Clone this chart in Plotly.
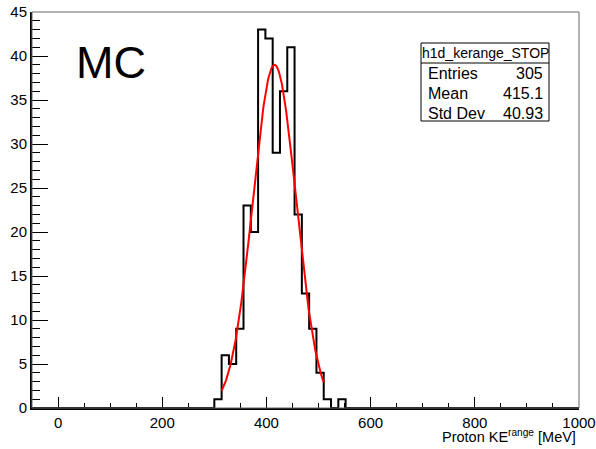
import numpy as np
import plotly.graph_objects as go

# histogram h1d_kerange_STOP: 75 bins of 14 MeV from -50 to 1000
x_min = -50
x_max = 1000
bin_width = 14
first_edge = 300
counts = [1, 6, 5, 9, 23, 20, 43, 42, 29, 36, 41, 22, 13, 9, 4, 1, 0, 1]

# gaussian fit result
fit_const = 39.0
fit_mean = 415.5
fit_sigma = 41.5
fit_range = [314, 510]

stats_title = "h1d_kerange_STOP"
stats_names = ["Entries", "Mean", "Std Dev"]
stats_values = ["305", "415.1", "40.93"]

# step outline over the whole axis range
n_bins = int((x_max - x_min) / bin_width)
full = np.zeros(n_bins)
k0 = int((first_edge - x_min) / bin_width)
full[k0:k0 + len(counts)] = counts
edges = x_min + bin_width * np.arange(n_bins + 1)
ys = np.append(full, full[-1])

fx = np.linspace(fit_range[0], fit_range[1], 200)
fy = fit_const * np.exp(-0.5 * ((fx - fit_mean) / fit_sigma) ** 2)

fig = go.Figure()
fig.add_trace(go.Scatter(x=edges, y=ys, mode="lines", line_shape="hv",
                         line=dict(color="black", width=2), hoverinfo="skip"))
fig.add_trace(go.Scatter(x=fx, y=fy, mode="lines",
                         line=dict(color="#ff0000", width=2), hoverinfo="skip"))

# plot area in pixels: 32..579 x 12..408
L, R, T, B = 32, 579, 12, 408
def px(x):
    return (x - L) / (R - L)
def py(y):
    return (B - y) / (B - T)

shapes = [
    dict(type="rect", xref="paper", yref="paper", x0=0, x1=1, y0=0, y1=1,
         line=dict(color="#666666", width=1)),
    dict(type="rect", xref="paper", yref="paper", x0=px(421), x1=px(549),
         y0=py(121), y1=py(43), line=dict(color="black", width=1), fillcolor="white"),
    dict(type="line", xref="paper", yref="paper", x0=px(421), x1=px(549),
         y0=py(63), y1=py(63), line=dict(color="black", width=1)),
]

annotations = [
    dict(text="MC", xref="paper", yref="paper", x=px(74), y=py(62),
         xanchor="left", yanchor="middle", showarrow=False,
         font=dict(size=45, color="black")),
    dict(text=stats_title, xref="paper", yref="paper", x=px(485), y=py(53),
         xanchor="center", yanchor="middle", showarrow=False,
         font=dict(size=14, color="black")),
    dict(text="Proton KE<sup>range</sup> [MeV]", xref="paper", yref="paper",
         x=px(578), y=py(436), xanchor="right", yanchor="middle", showarrow=False,
         font=dict(size=14.5, color="black")),
]
for i, (nm, val) in enumerate(zip(stats_names, stats_values)):
    yy = 73 + 20 * i
    annotations.append(dict(text=nm, xref="paper", yref="paper", x=px(426), y=py(yy),
                            xanchor="left", yanchor="middle", showarrow=False,
                            font=dict(size=16, color="black")))
    annotations.append(dict(text=val, xref="paper", yref="paper", x=px(545), y=py(yy),
                            xanchor="right", yanchor="middle", showarrow=False,
                            font=dict(size=16, color="black")))

fig.update_layout(
    width=596, height=449,
    margin=dict(l=L, r=596 - R, t=T, b=449 - B, autoexpand=False),
    paper_bgcolor="white", plot_bgcolor="white",
    showlegend=False,
    font=dict(family="Liberation Sans, Arial, sans-serif", size=15, color="black"),
    shapes=shapes, annotations=annotations,
)
fig.update_xaxes(range=[x_min, x_max], showgrid=False, zeroline=False,
                 showline=True, linecolor="black", linewidth=2, automargin=False,
                 ticks="inside", ticklen=11, tickcolor="black", tickwidth=1,
                 tick0=0, dtick=200,
                 minor=dict(ticks="inside", ticklen=5, dtick=50, tick0=0, tickcolor="black"),
                 tickfont=dict(size=15))
fig.update_yaxes(range=[0, 45], showgrid=False, zeroline=False,
                 showline=True, linecolor="black", linewidth=2, automargin=False,
                 ticks="inside", ticklen=16, tickcolor="black", tickwidth=1,
                 tick0=0, dtick=5,
                 minor=dict(ticks="inside", ticklen=8, dtick=1, tickcolor="black"),
                 tickfont=dict(size=15), ticklabelstandoff=0)

# drop the browser's default 8px body margin so the figure sits at (0, 0)
fig.write_html("out.html", config={"displayModeBar": False},
               post_script="document.body.style.margin='0';")
